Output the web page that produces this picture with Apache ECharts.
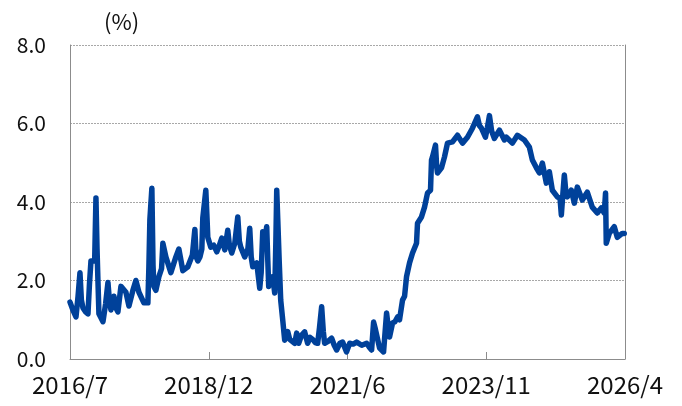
<!DOCTYPE html>
<html>
<head>
<meta charset="utf-8">
<script src="https://cdn.jsdelivr.net/npm/echarts@6/dist/echarts.min.js"></script>
<style>
  html, body { margin: 0; padding: 0; background: #fff; }
  #chart { width: 682px; height: 406px; }
</style>
</head>
<body>
<div id="chart"></div>
<script>
// months elapsed since 2016/7 (x) and the rate in % (y)
const monthOffsets = [
  0, 0.6, 1.26, 1.7, 2.1, 2.4, 2.74, 3.3, 3.79, 4.1, 4.42, 4.84, 5.2, 5.47, 5.7, 5.89, 6.1, 6.95,
  7.5, 8.0, 8.3, 8.63, 9.26, 9.7, 10.1, 10.74, 11.79, 12.42, 13.26, 13.89, 14.53, 15.58, 16.42,
  16.63, 16.84, 17.26, 17.5, 17.68, 18.1, 18.74, 19.3, 19.58, 20.21, 21.26, 22.32, 22.95, 23.79,
  24.84, 25.26, 25.8, 26.32, 26.6, 26.95, 27.4, 27.79, 28.0, 28.3, 28.63, 28.85, 29.05, 29.68,
  30.3, 30.95, 31.5, 32.0, 32.63, 33.26, 33.6, 34.1, 34.74, 35.37, 35.7, 36.0, 36.84, 37.5, 37.89,
  38.2, 38.53, 39.37, 40.0, 40.3, 40.63, 41.0, 41.47, 41.7, 41.89, 42.3, 42.74, 43.16, 43.4, 43.58,
  43.8, 44.1, 44.42, 44.84, 45.26, 45.89, 46.32, 46.74, 47.37, 47.79, 48.21, 48.8, 49.47, 50.1,
  50.6, 51.16, 51.7, 52.21, 52.6, 53.05, 53.4, 53.68, 54.4, 55.16, 55.7, 56.21, 56.9, 57.47, 58.3,
  58.95, 59.7, 60.42, 61.5, 62.53, 63.1, 63.58, 64.0, 64.3, 64.63, 65.26, 66.1, 66.74, 67.0, 67.37,
  68.0, 68.5, 69.05, 69.47, 70.1, 70.53, 70.95, 71.58, 72.21, 73.05, 73.26, 74.1, 74.74, 75.37,
  76.0, 76.21, 76.42, 77.05, 77.3, 77.47, 78.32, 78.95, 79.58, 80.63, 81.68, 82.74, 83.79, 84.84,
  85.89, 86.3, 86.74, 87.58, 88.0, 88.42, 88.9, 89.47, 90.53, 91.58, 92.0, 93.26, 94.32, 95.79,
  96.84, 97.47, 98.32, 98.95, 99.58, 100.42, 101.05, 101.68, 102.74, 103.3, 103.58, 103.9, 104.21,
  104.5, 104.84, 105.68, 106.32, 106.95, 108.0, 109.05, 110.1, 111.16, 112.0, 112.63, 112.9, 113.05,
  113.68, 114.74, 115.37, 116.42, 116.84
];
const rates = [
  1.45, 1.25, 1.07, 1.6, 2.2, 1.5, 1.3, 1.2, 1.15, 1.9, 2.5, 2.45, 2.5, 4.1, 2.8, 2.0, 1.15, 0.95,
  1.4, 1.95, 1.5, 1.25, 1.6, 1.3, 1.2, 1.85, 1.7, 1.35, 1.75, 2.0, 1.7, 1.43, 1.43,
  2.35, 3.55, 4.35, 2.4, 1.85, 1.75, 2.1, 2.3, 2.95, 2.6, 2.2, 2.6, 2.8, 2.25,
  2.35, 2.4, 2.65, 3.3, 2.6, 2.5, 2.6, 2.8, 3.6, 3.6, 4.3, 3.7, 3.1, 2.85,
  2.9, 2.73, 2.9, 3.08, 2.78, 3.28, 2.9, 2.7, 2.95, 3.62, 3.0, 2.85, 2.6, 2.8, 3.33,
  2.6, 2.35, 2.45, 1.8, 2.2, 3.24, 3.0, 3.37, 2.5, 1.85, 2.0, 2.1, 1.68, 3.0, 4.3,
  3.55, 2.5, 1.5, 1.0, 0.48, 0.7, 0.5, 0.48, 0.4, 0.66, 0.4, 0.6, 0.69, 0.4,
  0.55, 0.5, 0.42, 0.4, 0.8, 1.33, 0.7, 0.4, 0.45, 0.53, 0.35, 0.23, 0.4, 0.43, 0.18,
  0.4, 0.38, 0.43, 0.35, 0.4, 0.3, 0.23, 0.94, 0.8, 0.85, 0.28, 0.18, 1.17, 0.9, 0.56,
  0.92, 0.95, 1.07, 1.0, 1.5, 1.6, 2.1, 2.45, 2.7, 2.95, 3.46, 3.62, 3.87, 4.23,
  4.3, 5.07, 5.15, 5.45, 4.9, 4.74, 4.87, 5.15, 5.5, 5.53, 5.7, 5.5, 5.65, 5.88,
  6.17, 5.95, 5.88, 5.65, 5.9, 6.2, 5.8, 5.62, 5.83, 5.58, 5.65, 5.5, 5.7, 5.58,
  5.4, 5.07, 4.87, 4.74, 4.99, 4.48, 4.77, 4.3, 4.13, 4.1, 3.67, 4.2, 4.69,
  4.3, 4.13, 4.3, 3.97, 4.38, 4.05, 4.25, 3.87, 3.72, 3.85, 3.72, 4.23, 2.95,
  3.2, 3.37, 3.1, 3.2, 3.2
];
const xTickLabels = ['2016/7', '2018/12', '2021/6', '2023/11', '2026/4'];
const totalMonths = 117;
const yTicks = [0, 2, 4, 6, 8];

const chart = echarts.init(document.getElementById('chart'));
const font = '"Noto Sans CJK JP", "Noto Sans", sans-serif';
const step = totalMonths / (xTickLabels.length - 1);

const option = {
  animation: false,
  grid: { left: 70, right: 57, top: 45, bottom: 47 },
  graphic: [{
    type: 'text', left: 104, top: 11,
    style: { text: '(%)', fontSize: 22, fontFamily: font, fill: '#111' }
  }],
  xAxis: {
    type: 'value',
    min: 0,
    max: totalMonths,
    interval: step,
    axisLine: { lineStyle: { color: '#8c8c8c', width: 1 } },
    axisTick: { inside: true, length: 7, lineStyle: { color: '#8c8c8c' } },
    splitLine: { show: false },
    axisLabel: {
      margin: 14,
      fontSize: 24,
      fontFamily: font,
      color: '#111',
      showMinLabel: true,
      showMaxLabel: true,
      formatter: v => xTickLabels[Math.round(v / step)] || ''
    }
  },
  yAxis: [{
    type: 'value',
    min: yTicks[0],
    max: yTicks[yTicks.length - 1],
    interval: 2,
    axisLine: { show: true, lineStyle: { color: '#8c8c8c', width: 1 } },
    axisTick: { show: false },
    splitLine: { lineStyle: { color: '#a8a8a8', type: [2, 1], width: 1 } },
    axisLabel: {
      margin: 24,
      fontSize: 21,
      fontFamily: font,
      color: '#111',
      formatter: v => v.toFixed(1)
    }
  }, {
    // right frame line only
    type: 'value',
    position: 'right',
    min: 0,
    max: 8,
    interval: 2,
    axisLine: { show: true, lineStyle: { color: '#8c8c8c', width: 1 } },
    axisTick: { show: false },
    axisLabel: { show: false },
    splitLine: { show: false }
  }],
  series: [{
    type: 'line',
    data: monthOffsets.map((m, i) => [m, rates[i]]),
    showSymbol: false,
    symbol: 'none',
    lineStyle: { color: '#00419a', width: 5.5, join: 'round', cap: 'round' },
    z: 3
  }]
};

chart.setOption(option);
window.addEventListener('resize', () => chart.resize());
</script>
</body>
</html>
